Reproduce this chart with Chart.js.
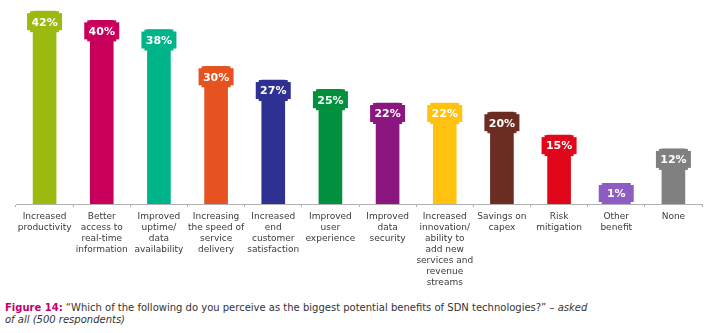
<!DOCTYPE html>
<html>
<head>
<meta charset="utf-8">
<script src="https://cdn.jsdelivr.net/npm/chart.js@4.4.0/dist/chart.umd.min.js"></script>
<style>
  body { margin: 0; background: #fff; width: 708px; height: 333px; overflow: hidden; position: relative; }
  #wrap { position: absolute; left: 0; top: 0; width: 708px; height: 290px; }
  #caption { position: absolute; left: 5px; top: 302px; font-family: "DejaVu Sans", Verdana, sans-serif; font-size: 10px; line-height: 12px; color: #333; }
  #caption b { color: #c4006b; }
</style>
</head>
<body>
<div id="wrap"><canvas id="myChart"></canvas></div>
<div id="caption"><b>Figure 14:</b> “Which of the following do you perceive as the biggest potential benefits of SDN technologies?” – <i>asked<br>of all (500 respondents)</i></div>
<script>
const categories = [
    ["Increased", "productivity"],
    ["Better", "access to", "real-time", "information"],
    ["Improved", "uptime/", "data", "availability"],
    ["Increasing", "the speed of", "service", "delivery"],
    ["Increased", "end", "customer", "satisfaction"],
    ["Improved", "user", "experience"],
    ["Improved", "data", "security"],
    ["Increased", "innovation/", "ability to", "add new", "services and", "revenue", "streams"],
    ["Savings on", "capex"],
    ["Risk", "mitigation"],
    ["Other", "benefit"],
    ["None"]
];
const percentages = [42, 40, 38, 30, 27, 25, 22, 22, 20, 15, 1, 12];
const barColors = ['#9bba10', '#c8005c', '#00b48a', '#e65220', '#2e3192', '#00903e',
    '#8c1680', '#ffc20e', '#6b2c22', '#e1061a', '#8d5dc4', '#808080'];

// draws the wider label box on top of each bar
const capPlugin = {
    id: 'caps',
    afterDatasetsDraw(chart) {
        const ctx = chart.ctx;
        const meta = chart.getDatasetMeta(0);
        const capW = 35, capH = 21, inset = 3;
        meta.data.forEach((bar, i) => {
            let top = bar.y;
            if (bar.base - top < capH) top = bar.base - capH;
            const left = bar.x - capW / 2;
            ctx.save();
            ctx.fillStyle = barColors[i];
            ctx.fillRect(left + inset, top, capW - inset * 2, capH);
            ctx.fillRect(left, top + 2, capW, capH - 4);
            ctx.fillStyle = '#fff';
            ctx.font = 'bold 11px "DejaVu Sans"';
            ctx.textAlign = 'center';
            ctx.textBaseline = 'middle';
            ctx.fillText(percentages[i] + '%', bar.x, top + capH / 2 + 1);
            ctx.restore();
        });
    }
};

new Chart(document.getElementById('myChart').getContext('2d'), {
    type: 'bar',
    data: {
        labels: categories,
        datasets: [{
            data: percentages,
            backgroundColor: barColors,
            borderWidth: 0,
            barThickness: 23
        }]
    },
    options: {
        responsive: true,
        maintainAspectRatio: false,
        animation: false,
        layout: { padding: { top: 2, left: 16, right: 6, bottom: 0 } },
        plugins: {
            legend: { display: false },
            tooltip: { enabled: false }
        },
        scales: {
            x: {
                grid: {
                    display: true,
                    drawOnChartArea: false,
                    offset: true,
                    tickLength: 3,
                    color: '#b0b0b0'
                },
                border: { color: '#b0b0b0', width: 1 },
                ticks: {
                    autoSkip: false,
                    maxRotation: 0,
                    padding: 4,
                    color: '#3a3a3a',
                    font: { family: 'DejaVu Sans', size: 9, lineHeight: '11px' }
                },
                afterFit(scale) { scale.height = 86; }
            },
            y: {
                display: false,
                min: 0,
                max: 44
            }
        }
    },
    plugins: [capPlugin]
});
</script>
</body>
</html>
